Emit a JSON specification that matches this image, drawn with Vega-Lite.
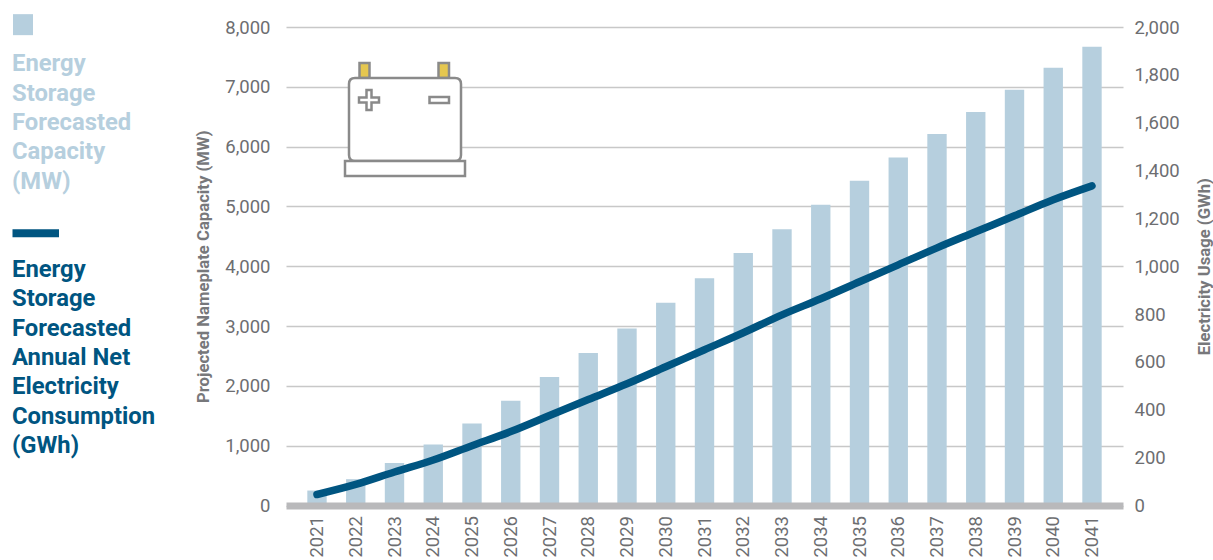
{
"$schema":"https://vega.github.io/schema/vega-lite/v6.json",
"padding":{"left":12,"top":14,"right":0,"bottom":0},
"background":"white",
"config":{"view":{"stroke":null},"concat":{"spacing":33}},
"resolve":{"scale":{"shape":"independent","color":"independent","x":"independent","y":"independent","fill":"independent"}},
"datasets":{
"energy":[
{"year":"2021","MW":250,"GWh":46},{"year":"2022","MW":440,"GWh":88},{"year":"2023","MW":710,"GWh":140},{"year":"2024","MW":1020,"GWh":190},{"year":"2025","MW":1370,"GWh":250},{"year":"2026","MW":1750,"GWh":309},{"year":"2027","MW":2150,"GWh":376},{"year":"2028","MW":2550,"GWh":443},{"year":"2029","MW":2960,"GWh":509},{"year":"2030","MW":3390,"GWh":580},{"year":"2031","MW":3800,"GWh":651},{"year":"2032","MW":4220,"GWh":722},{"year":"2033","MW":4620,"GWh":797},{"year":"2034","MW":5030,"GWh":864},{"year":"2035","MW":5430,"GWh":935},{"year":"2036","MW":5820,"GWh":1006},{"year":"2037","MW":6210,"GWh":1077},{"year":"2038","MW":6580,"GWh":1144},{"year":"2039","MW":6950,"GWh":1211},{"year":"2040","MW":7320,"GWh":1278},{"year":"2041","MW":7670,"GWh":1336}],
"legendText":[
{"line":1,"col":0,"text":"Energy","series":"capacity"},{"line":2,"col":0,"text":"Storage","series":"capacity"},{"line":3,"col":0,"text":"Forecasted","series":"capacity"},{"line":4,"col":0,"text":"Capacity","series":"capacity"},{"line":5,"col":0,"text":"(MW)","series":"capacity"},
{"line":8,"col":0,"text":"Energy","series":"consumption"},{"line":9,"col":0,"text":"Storage","series":"consumption"},{"line":10,"col":0,"text":"Forecasted","series":"consumption"},{"line":11,"col":0,"text":"Annual Net","series":"consumption"},{"line":12,"col":0,"text":"Electricity","series":"consumption"},{"line":13,"col":0,"text":"Consumption","series":"consumption"},{"line":14,"col":0,"text":"(GWh)","series":"consumption"}],
"legendKeys":[{"line":-0.35,"col":0,"series":"capacity"},{"line":6.75,"col":0,"series":"consumption"}],
"icon":[
{"year":"2023","MW":6447,"part":"term1"},{"year":"2023","MW":6447,"part":"term2"},{"year":"2023","MW":6447,"part":"body"},{"year":"2023","MW":6447,"part":"base"},{"year":"2023","MW":6447,"part":"plus"},{"year":"2023","MW":6447,"part":"minus"}]
},
"hconcat":[
{"width":150,"height":478.5,
"layer":[
{"data":{"name":"legendKeys"},
"mark":{"type":"point","filled":true,"opacity":1,"size":4,"strokeWidth":0},
"encoding":{
"x":{"field":"col","type":"quantitative","axis":null,"scale":{"domain":[0,1]}},
"y":{"field":"line","type":"quantitative","axis":null,"scale":{"domain":[16.02,-0.27],"nice":false,"zero":false}},
"shape":{"field":"series","type":"nominal","legend":null,"scale":{"domain":["capacity","consumption"],"range":["M1,-10.5H21V10.5H1Z","M0.5,-4H47V4H0.5Z"]}},
"color":{"field":"series","type":"nominal","legend":null,"scale":{"domain":["capacity","consumption"],"range":["#b6cfde","#005581"]}}}},
{"data":{"name":"legendText"},
"mark":{"type":"text","align":"left","baseline":"middle","font":"Roboto","fontWeight":"bold","fontSize":23.8},
"encoding":{
"x":{"field":"col","type":"quantitative","axis":null,"scale":{"domain":[0,1]}},
"y":{"field":"line","type":"quantitative","axis":null,"scale":{"domain":[16.02,-0.27],"nice":false,"zero":false}},
"text":{"field":"text"},
"color":{"field":"series","type":"nominal","legend":null,"scale":{"domain":["capacity","consumption"],"range":["#b6cfde","#005581"]}}}}
]},
{"width":837,"height":478.5,
"layer":[
{"data":{"name":"energy"},
"mark":{"type":"bar","color":"#b6cfde"},
"encoding":{
"x":{"field":"year","type":"ordinal","title":null,"scale":{"paddingInner":0.5,"paddingOuter":0.55},
"axis":{"zindex":1,"labelAngle":-90,"labelFont":"Roboto","labelFontSize":18.5,"labelColor":"#6d6e71","labelPadding":10,"labelBaseline":"middle","labelAlign":"right","ticks":false,"domainColor":"#b9b9bb","domainWidth":7}},
"y":{"field":"MW","type":"quantitative","scale":{"domain":[0,8000],"nice":false},
"axis":{"title":"Projected Nameplate Capacity (MW)","values":[0,1000,2000,3000,4000,5000,6000,7000,8000],"format":",.0f","grid":true,"gridColor":"#c8c8c8","gridWidth":1.5,"domain":false,"ticks":false,"labelPadding":16,"labelFont":"Roboto","labelFontSize":18.5,"labelColor":"#6d6e71","titleFont":"Roboto","titleFontSize":16.7,"titleFontWeight":"bold","titleColor":"#77787b","titlePadding":12}}}},
{"data":{"name":"energy"},
"mark":{"type":"line","color":"#005581","strokeWidth":7.5,"strokeCap":"round","interpolate":"monotone"},
"encoding":{
"x":{"field":"year","type":"ordinal","title":null},
"y":{"field":"GWh","type":"quantitative","scale":{"domain":[0,2000],"nice":false},
"axis":{"orient":"right","title":"Electricity Usage (GWh)","titleAngle":270,"values":[0,200,400,600,800,1000,1200,1400,1600,1800,2000],"format":",.0f","grid":false,"domain":false,"ticks":false,"labelPadding":11,"labelFont":"Roboto","labelFontSize":18.5,"labelColor":"#6d6e71","titleFont":"Roboto","titleFontSize":16.7,"titleFontWeight":"bold","titleColor":"#77787b","titlePadding":34}}}},
{"data":{"name":"icon"},
"mark":{"type":"point","filled":true,"opacity":1,"size":4,"stroke":"#8a8a8a","strokeWidth":2.5,"strokeOpacity":1},
"encoding":{
"x":{"field":"year","type":"ordinal","title":null},
"y":{"field":"MW","type":"quantitative","axis":null,"scale":{"domain":[0,8000],"nice":false}},
"shape":{"field":"part","type":"nominal","legend":null,"scale":{"domain":["term1","term2","body","base","plus","minus"],"range":[
"M-35,-57H-25V-42H-35Z",
"M44,-57H54.5V-42H44Z",
"M-39.5,-42H60.5Q66.5,-42 66.5,-36V35Q66.5,41 60.5,41H-39.5Q-45.5,41 -45.5,35V-36Q-45.5,-42 -39.5,-42Z",
"M-49.5,41H70.5V56H-49.5Z",
"M-28,-30H-23V-22.5H-15.5V-17.5H-23V-10H-28V-17.5H-35.5V-22.5H-28Z",
"M35,-23H54.5V-17H35Z"]}},
"fill":{"field":"part","type":"nominal","legend":null,"scale":{"domain":["term1","term2","body","base","plus","minus"],"range":["#e5c74f","#e5c74f","#ffffff","#ffffff","#ffffff","#ffffff"]}}}}
],
"resolve":{"scale":{"y":"independent"},"axis":{"y":"independent"}}}
]
}
